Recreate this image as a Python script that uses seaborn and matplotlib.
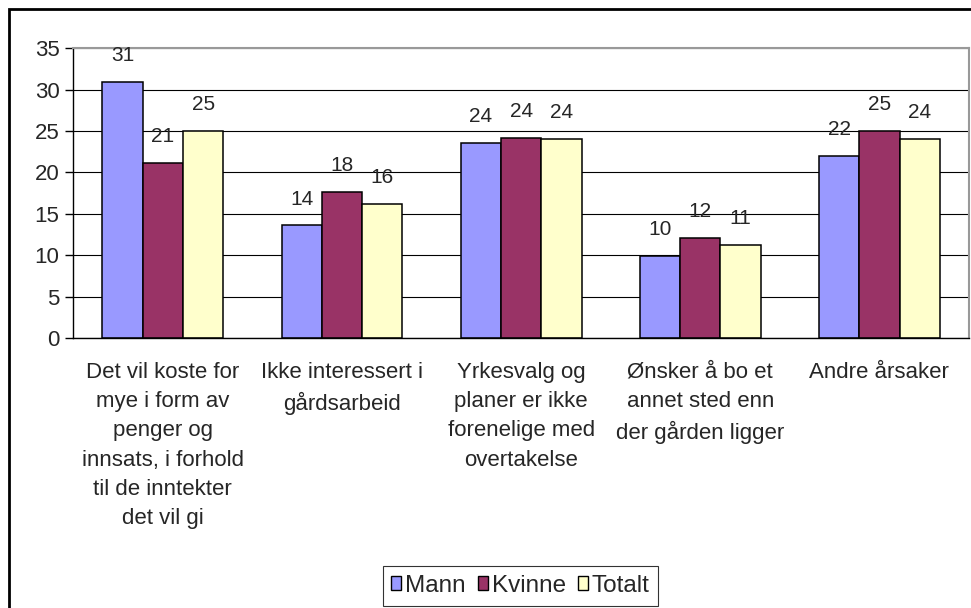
import pandas as pd
import seaborn as sns
import matplotlib.pyplot as plt
from matplotlib.patches import Rectangle, Patch

# data
categories = [
    "Det vil koste for\nmye i form av\npenger og\ninnsats, i forhold\ntil de inntekter\ndet vil gi",
    "Ikke interessert i\ngårdsarbeid",
    "Yrkesvalg og\nplaner er ikke\nforenelige med\novertakelse",
    "Ønsker å bo et\nannet sted enn\nder gården ligger",
    "Andre årsaker",
]
series = ["Mann", "Kvinne", "Totalt"]
mann = [30.9, 13.6, 23.6, 9.9, 22.0]
kvinne = [21.1, 17.6, 24.2, 12.1, 25.0]
totalt = [25.0, 16.2, 24.0, 11.2, 24.0]
colors = ["#9999FF", "#993366", "#FFFFCC"]

def build_frame():
    rows = []
    for name, vals in zip(series, [mann, kvinne, totalt]):
        for cat, v in zip(categories, vals):
            rows.append({"kategori": cat, "gruppe": name, "verdi": v})
    return pd.DataFrame(rows)

def main():
    sns.set_style("white")
    plt.rcParams["font.family"] = ["Liberation Sans", "DejaVu Sans"]

    df = build_frame()
    fig = plt.figure(figsize=(9.71, 6.08), dpi=100)
    ax = fig.add_axes([73.3 / 971, 1 - 338 / 608, (969 - 73.3) / 971, (338 - 48.3) / 608])

    sns.barplot(data=df, x="kategori", y="verdi", hue="gruppe", order=categories,
                hue_order=series, palette=colors, width=0.674, gap=0,
                edgecolor="black", linewidth=1.1, saturation=1, ax=ax, legend=False)

    # value labels
    for container in ax.containers:
        for bar in container:
            h = bar.get_height()
            ax.annotate(f"{h:.0f}", (bar.get_x() + bar.get_width() / 2, h),
                        xytext=(0, 19), textcoords="offset points",
                        ha="center", va="center", fontsize=15)

    ax.set_ylim(0, 35)
    ax.set_yticks(range(0, 36, 5))
    ax.set_xlim(-0.5, len(categories) - 0.5)
    ax.yaxis.grid(True, color="black", linewidth=0.8)
    ax.set_axisbelow(True)
    ax.set_xlabel("")
    ax.set_ylabel("")

    ax.set_xticks(range(len(categories)))
    ax.set_xticklabels(categories, fontsize=16, linespacing=1.52)
    ax.tick_params(axis="x", which="major", length=0, pad=17)
    ax.set_xticks([i - 0.5 for i in range(len(categories) + 1)], minor=True)
    ax.tick_params(axis="x", which="minor", length=6, width=1, color="black", direction="out")
    ax.tick_params(axis="y", length=6, width=1, color="black", direction="out", labelsize=16, pad=4)
    ax.tick_params(left=True, bottom=True)

    for side in ["left", "bottom"]:
        ax.spines[side].set_color("black")
        ax.spines[side].set_linewidth(1)
    for side in ["top", "right"]:
        ax.spines[side].set_color("#999999")
        ax.spines[side].set_linewidth(1.5)

    handles = [Patch(facecolor=c, edgecolor="black", linewidth=1) for c in colors]
    leg = fig.legend(handles, series, loc="center", bbox_to_anchor=(520.5 / 971, 1 - 586 / 608),
                     ncol=3, fontsize=17.5, frameon=True, fancybox=False, handlelength=0.42,
                     handleheight=0.5, handletextpad=0.15, columnspacing=0.5, borderpad=0.35)
    leg.get_frame().set_edgecolor("black")
    leg.get_frame().set_linewidth(0.8)

    # outer chart border (only top and left fall inside the image)
    fig.patches.append(Rectangle((9 / 971, -0.2), 1.5, 1.2 - 9 / 608, transform=fig.transFigure,
                                 fill=False, edgecolor="black", linewidth=2, clip_on=False))

    fig.savefig("out.png", dpi=100)
    plt.close(fig)

if __name__ == "__main__":
    main()
